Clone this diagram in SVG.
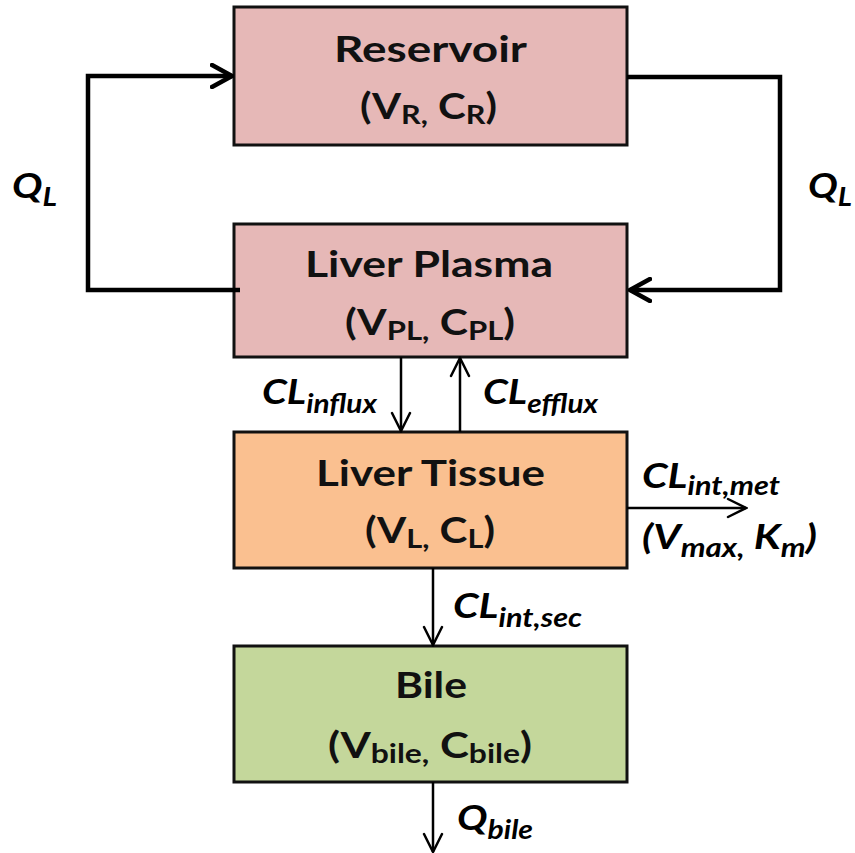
<svg xmlns="http://www.w3.org/2000/svg" width="855" height="853" viewBox="0 0 855 853">
<defs>
<style>
.box{stroke:#111;stroke-width:3}
.t{font-family:Lato,"Liberation Sans",sans-serif;font-weight:bold;font-size:37px;fill:#111;text-anchor:middle}
.lab{font-family:Lato,"Liberation Sans",sans-serif;font-weight:bold;font-style:italic;font-size:35px;fill:#000}
.sub{font-size:27px}
.lab .sub{font-size:26px}
.thick{fill:none;stroke:#000;stroke-width:4.5}
.thin{fill:none;stroke:#000;stroke-width:2.5}
</style>
<marker id="ahBig" viewBox="0 0 24 26" refX="22" refY="13" markerWidth="24" markerHeight="26" markerUnits="userSpaceOnUse" orient="auto">
<path d="M2,2 L22,13 L2,24" fill="none" stroke="#000" stroke-width="4.5" stroke-linecap="round"/>
</marker>
<marker id="ah" viewBox="0 0 22 22" refX="20" refY="11" markerWidth="22" markerHeight="22" markerUnits="userSpaceOnUse" orient="auto">
<path d="M2,2 L20,11 L2,20" fill="none" stroke="#000" stroke-width="2.5" stroke-linecap="round"/>
</marker>
</defs>
<rect width="855" height="853" fill="#fff"/>

<g id="reservoir">
<rect class="box" x="234" y="7" width="393" height="138" fill="#E6B8B7"/>
<text class="t" x="430.5" y="62" textLength="193" lengthAdjust="spacingAndGlyphs">Reservoir</text>
<text class="t" x="428.5" y="119" textLength="137" lengthAdjust="spacingAndGlyphs">(V<tspan class="sub" dy="5">R,</tspan><tspan dy="-5"> C</tspan><tspan class="sub" dy="5">R</tspan><tspan dy="-5">)</tspan></text>
</g>

<g id="liver-plasma">
<rect class="box" x="234" y="224" width="393" height="133" fill="#E6B8B7"/>
<text class="t" x="429" y="277" textLength="248" lengthAdjust="spacingAndGlyphs">Liver Plasma</text>
<text class="t" x="430" y="335" textLength="170" lengthAdjust="spacingAndGlyphs">(V<tspan class="sub" dy="5">PL,</tspan><tspan dy="-5"> C</tspan><tspan class="sub" dy="5">PL</tspan><tspan dy="-5">)</tspan></text>
</g>

<g id="liver-tissue">
<rect class="box" x="234" y="432" width="393" height="136" fill="#FAC090"/>
<text class="t" x="430.5" y="486" textLength="229" lengthAdjust="spacingAndGlyphs">Liver Tissue</text>
<text class="t" x="430" y="543" textLength="130" lengthAdjust="spacingAndGlyphs">(V<tspan class="sub" dy="5">L,</tspan><tspan dy="-5"> C</tspan><tspan class="sub" dy="5">L</tspan><tspan dy="-5">)</tspan></text>
</g>

<g id="bile">
<rect class="box" x="234" y="646" width="393" height="136" fill="#C4D79B"/>
<text class="t" x="431" y="698" textLength="72" lengthAdjust="spacingAndGlyphs">Bile</text>
<text class="t" x="430" y="758" textLength="204" lengthAdjust="spacingAndGlyphs">(V<tspan class="sub" dy="5">bile,</tspan><tspan dy="-5"> C</tspan><tspan class="sub" dy="5">bile</tspan><tspan dy="-5">)</tspan></text>
</g>

<g id="connectors">
<path class="thick" d="M240,290 H88 V76 H232" marker-end="url(#ahBig)"/>
<path class="thick" d="M627,77 H780 V290 H630" marker-end="url(#ahBig)"/>
<path class="thin" d="M401,357 V431" marker-end="url(#ah)"/>
<path class="thin" d="M460,432 V358" marker-end="url(#ah)"/>
<path class="thin" d="M627,508 H746" marker-end="url(#ah)"/>
<path class="thin" d="M433,568 V645" marker-end="url(#ah)"/>
<path class="thin" d="M433,782 V852" marker-end="url(#ah)"/>
</g>

<g id="labels">
<text class="lab" x="12" y="198" textLength="45" lengthAdjust="spacingAndGlyphs">Q<tspan class="sub" dy="8">L</tspan></text>
<text class="lab" x="808" y="198" textLength="44" lengthAdjust="spacingAndGlyphs">Q<tspan class="sub" dy="8">L</tspan></text>
<text class="lab" x="262" y="404" textLength="115" lengthAdjust="spacingAndGlyphs">CL<tspan class="sub" dy="9">influx</tspan></text>
<text class="lab" x="483" y="404" textLength="115" lengthAdjust="spacingAndGlyphs">CL<tspan class="sub" dy="9">efflux</tspan></text>
<text class="lab" x="642" y="488" textLength="138" lengthAdjust="spacingAndGlyphs">CL<tspan class="sub" dy="7">int,met</tspan></text>
<text class="lab" x="642" y="549" textLength="175" lengthAdjust="spacingAndGlyphs">(V<tspan class="sub" dy="8">max,</tspan><tspan dy="-8"> K</tspan><tspan class="sub" dy="8">m</tspan><tspan dy="-8">)</tspan></text>
<text class="lab" x="453" y="618" textLength="129" lengthAdjust="spacingAndGlyphs">CL<tspan class="sub" dy="9">int,sec</tspan></text>
<text class="lab" x="457" y="830" textLength="76" lengthAdjust="spacingAndGlyphs">Q<tspan class="sub" dy="9">bile</tspan></text>
</g>
</svg>
